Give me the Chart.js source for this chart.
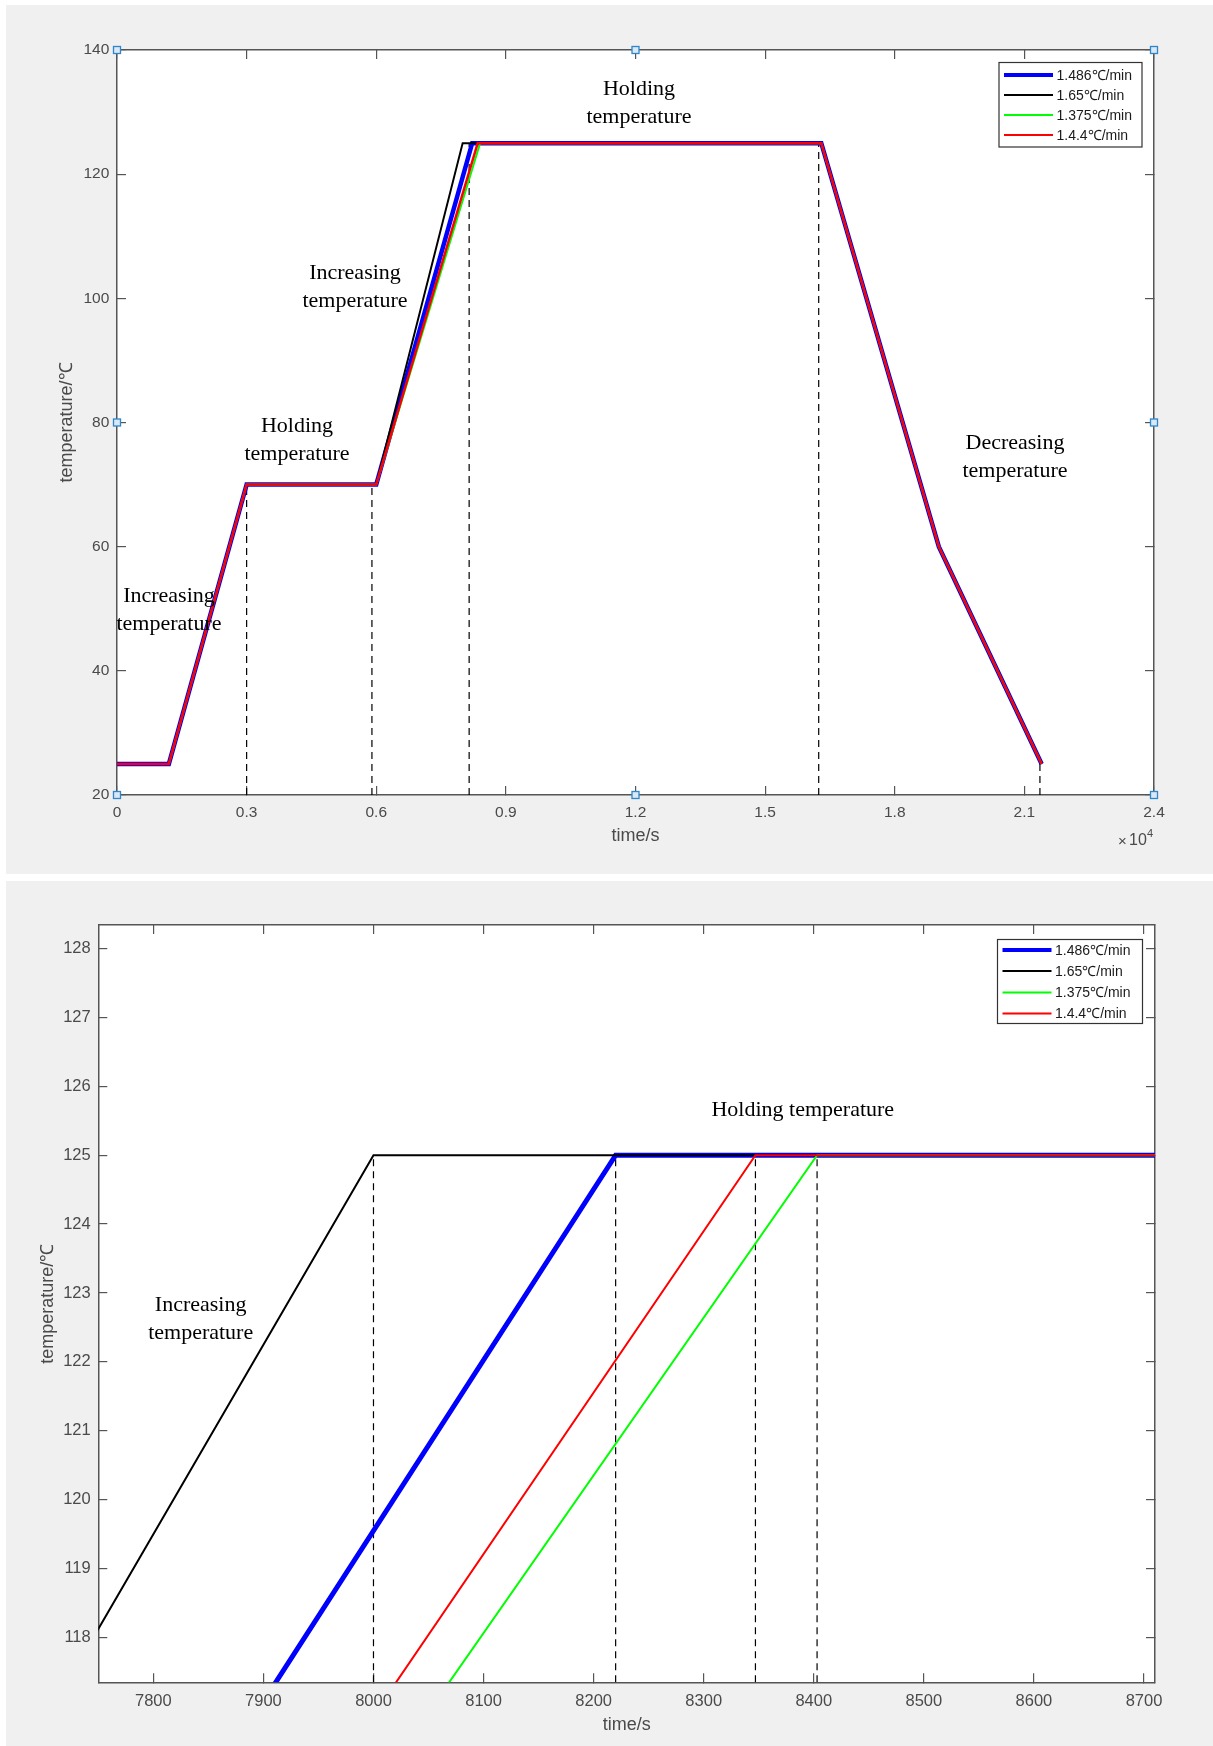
<!DOCTYPE html>
<html>
<head>
<meta charset="utf-8">
<title>Temperature profile</title>
<script src="https://cdn.jsdelivr.net/npm/chart.js@4.4.0/dist/chart.umd.min.js"></script>
<style>
  body { margin: 0; background: #fff; width: 1213px; height: 1746px; position: relative; overflow: hidden; }
  .panel { position: absolute; left: 6px; width: 1207px; background: #f0f0f0; }
  #p1 { top: 5px; height: 869px; }
  #p2 { top: 881px; height: 865px; }
  canvas { display: block; }
</style>
</head>
<body>
<div class="panel" id="p1"><canvas id="full" width="1207" height="869"></canvas></div>
<div class="panel" id="p2"><canvas id="zoom" width="1207" height="865"></canvas></div>
<script>
// heating rates shown in the legend
const seriesLabels = ['1.486℃/min', '1.65℃/min', '1.375℃/min', '1.4.4℃/min'];

// corner points of the temperature profile (same temperatures for every rate)
const profileTemp = [25, 25, 70, 70, 125, 125, 60, 25];
const time1486 = [0, 1200, 3000, 6000, 8220, 16300, 19020, 21400];
const time165  = [0, 1200, 3000, 6000, 8000, 16300, 19020, 21400];
const time1375 = [0, 1200, 3000, 6000, 8403, 16300, 19020, 21400];
const time144  = [0, 1200, 3000, 6000, 8347, 16300, 19020, 21400];

// vertical dashed guide lines
const guideTimeFull = [3000, 5900, 8150, 16240, 21360];
const guideTempFull = [70, 70, 125, 125, 25.5];
const guideTimeZoom = [8000, 8220, 8347, 8403];
const guideTempZoom = [125, 125, 125, 125];

// ticks
const xTicksFull = [0, 3000, 6000, 9000, 12000, 15000, 18000, 21000, 24000];
const xTickLabelsFull = ['0', '0.3', '0.6', '0.9', '1.2', '1.5', '1.8', '2.1', '2.4'];
const yTicksFull = [20, 40, 60, 80, 100, 120, 140];
const xTicksZoom = [7800, 7900, 8000, 8100, 8200, 8300, 8400, 8500, 8600, 8700];
const yTicksZoom = [118, 119, 120, 121, 122, 123, 124, 125, 126, 127, 128];

// text notes, placed in data coordinates
const notesFull = [
  { lines: ['Holding', 'temperature'], x: 12080, y: 131.5 },
  { lines: ['Increasing', 'temperature'], x: 5508, y: 101.8 },
  { lines: ['Holding', 'temperature'], x: 4166, y: 77.1 },
  { lines: ['Increasing', 'temperature'], x: 1203, y: 49.7 },
  { lines: ['Decreasing', 'temperature'], x: 20783, y: 74.4 }
];
const notesZoom = [
  { lines: ['Holding temperature'], x: 8390, y: 125.65 },
  { lines: ['Increasing', 'temperature'], x: 7843, y: 122.62 }
];

const seriesTimes = [time1486, time165, time1375, time144];
const seriesColors = ['#0000ff', '#000000', '#00ff00', '#ff0000'];
const seriesOrder = [4, 3, 2, 1]; // red ends up on top, blue at the bottom
const legendWidths = [4, 2, 2, 2];

const sans = '"Liberation Sans", Arial, Helvetica, sans-serif';
const serif = '"Liberation Serif", "Times New Roman", serif';
const axisColor = '#555555';
const tickColor = '#4a4a4a';

const extras = {
  id: 'extras',
  beforeDraw(chart) {
    const { ctx, chartArea: a } = chart;
    ctx.save();
    ctx.fillStyle = '#ffffff';
    ctx.fillRect(a.left, a.top, a.right - a.left, a.bottom - a.top);
    ctx.restore();
  },
  afterDraw(chart, args, o) {
    const { ctx, chartArea: a, scales } = chart;
    ctx.save();

    // text notes
    ctx.fillStyle = '#000';
    ctx.font = '22px ' + serif;
    ctx.textAlign = 'center';
    ctx.textBaseline = 'middle';
    o.notes.forEach(n => {
      const px = scales.x.getPixelForValue(n.x);
      const py = scales.y.getPixelForValue(n.y);
      const y0 = py - (n.lines.length - 1) * 14;
      n.lines.forEach((t, i) => ctx.fillText(t, px, y0 + i * 28));
    });

    // legend box
    const lg = o.legend;
    const bx = a.right - lg.right, by = a.top + lg.top;
    ctx.fillStyle = '#fff';
    ctx.fillRect(bx, by, lg.w, lg.h);
    ctx.strokeStyle = '#333';
    ctx.lineWidth = 1.2;
    ctx.strokeRect(bx + 0.5, by + 0.5, lg.w, lg.h);
    ctx.font = '14px ' + sans;
    ctx.textAlign = 'left';
    seriesLabels.forEach((lab, i) => {
      const ry = by + lg.rows[i];
      ctx.strokeStyle = seriesColors[i];
      ctx.lineWidth = legendWidths[i];
      ctx.beginPath();
      ctx.moveTo(bx + 5.5, ry);
      ctx.lineTo(bx + 54.5, ry);
      ctx.stroke();
      ctx.fillStyle = '#1a1a1a';
      ctx.fillText(lab, bx + 58, ry + 1);
    });

    // x10^4 exponent label
    if (o.exponent) {
      ctx.fillStyle = tickColor;
      ctx.font = '15px ' + sans;
      ctx.textAlign = 'left';
      ctx.fillText('×', a.right - 36, a.bottom + 47);
      ctx.font = '16px ' + sans;
      ctx.fillText('10', a.right - 25, a.bottom + 46);
      ctx.font = '11px ' + sans;
      ctx.fillText('4', a.right - 7, a.bottom + 39);
    }

    // selection handles of the MATLAB axes
    if (o.handles) {
      const xs = [a.left, (a.left + a.right) / 2, a.right];
      const ys = [a.top, (a.top + a.bottom) / 2, a.bottom];
      ctx.fillStyle = '#d8e8f6';
      ctx.strokeStyle = '#2f86c8';
      ctx.lineWidth = 1.3;
      xs.forEach((hx, i) => ys.forEach((hy, j) => {
        if (i === 1 && j === 1) return;
        ctx.fillRect(hx - 3.5, hy - 3.5, 7, 7);
        ctx.strokeRect(hx - 3.5, hy - 3.5, 7, 7);
      }));
    }
    ctx.restore();
  }
};

function makeChart(id, o) {
  const datasets = seriesTimes.map((times, i) => ({
    label: seriesLabels[i],
    data: times.map((t, j) => ({ x: t, y: profileTemp[j] })),
    borderColor: seriesColors[i],
    borderWidth: o.widths[i],
    pointRadius: 0,
    tension: 0,
    fill: false,
    clip: 0,
    order: seriesOrder[i]
  }));
  o.guideTime.forEach((t, i) => datasets.push({
    label: 'guide',
    data: [{ x: t, y: o.yMin }, { x: t, y: o.guideTemp[i] }],
    borderColor: '#000',
    borderWidth: 1.2,
    borderDash: [7, 5],
    pointRadius: 0,
    clip: 0,
    order: 10
  }));

  const grid = { drawOnChartArea: false, tickLength: -9, color: axisColor, lineWidth: 1.2 };
  const border = { color: axisColor, width: 1.5 };
  const tickFont = { family: sans, size: o.tickSize };
  const titleFont = { family: sans, size: 18 };

  return new Chart(document.getElementById(id), {
    type: 'line',
    data: { datasets },
    options: {
      responsive: false,
      animation: false,
      events: [],
      layout: { padding: o.padding },
      plugins: {
        legend: { display: false },
        tooltip: { enabled: false },
        extras: { notes: o.notes, legend: o.legend, exponent: o.exponent, handles: o.handles }
      },
      scales: {
        x: {
          type: 'linear', position: 'bottom', min: o.xMin, max: o.xMax,
          afterBuildTicks: s => { s.ticks = o.xTicks.map(v => ({ value: v })); },
          afterFit: s => { s.height = o.xH; },
          grid, border,
          ticks: {
            padding: o.xPad, color: tickColor, font: tickFont, maxRotation: 0, autoSkip: false,
            callback: (v, i) => o.xLabels ? o.xLabels[i] : String(v)
          },
          title: { display: true, text: 'time/s', color: tickColor, font: titleFont, padding: 0 }
        },
        x2: {
          type: 'linear', position: 'top', min: o.xMin, max: o.xMax,
          afterBuildTicks: s => { s.ticks = o.xTicks.map(v => ({ value: v })); },
          afterFit: s => { s.height = 0; },
          grid, border,
          ticks: { display: false }
        },
        y: {
          type: 'linear', position: 'left', min: o.yMin, max: o.yMax,
          afterBuildTicks: s => { s.ticks = o.yTicks.map(v => ({ value: v })); },
          afterFit: s => { s.width = o.yW; },
          grid, border,
          ticks: { padding: o.yPad, color: tickColor, font: tickFont, callback: v => String(v) },
          title: { display: true, text: 'temperature/℃', color: tickColor, font: titleFont, padding: { top: o.yTitlePad, bottom: 0 } }
        },
        y2: {
          type: 'linear', position: 'right', min: o.yMin, max: o.yMax,
          afterBuildTicks: s => { s.ticks = o.yTicks.map(v => ({ value: v })); },
          afterFit: s => { s.width = 0; },
          grid, border,
          ticks: { display: false }
        }
      }
    },
    plugins: [extras]
  });
}

makeChart('full', {
  xMin: 0, xMax: 24000, yMin: 20, yMax: 140,
  xTicks: xTicksFull, xLabels: xTickLabelsFull, yTicks: yTicksFull,
  guideTime: guideTimeFull, guideTemp: guideTempFull,
  widths: [4.5, 2, 2, 2.5],
  padding: { top: 45, right: 59, left: 0, bottom: 26.7 },
  xH: 52.3, yW: 111, xPad: 17.7, yPad: 16.7, yTitlePad: 50.2, tickSize: 15.5,
  notes: notesFull,
  legend: { right: 155.5, top: 12, w: 143, h: 84.5, rows: [13, 33, 53, 73] },
  exponent: true, handles: true
});

makeChart('zoom', {
  xMin: 7750, xMax: 8710, yMin: 117.35, yMax: 128.34,
  xTicks: xTicksZoom, xLabels: null, yTicks: yTicksZoom,
  guideTime: guideTimeZoom, guideTemp: guideTempZoom,
  widths: [5, 2, 2, 2],
  padding: { top: 44, right: 58, left: 0, bottom: 9.8 },
  xH: 53.9, yW: 92.3, xPad: 17.8, yPad: 16.6, yTitlePad: 31.2, tickSize: 16.5,
  notes: notesZoom,
  legend: { right: 158, top: 14, w: 145, h: 84, rows: [11, 32, 53.5, 74.6] },
  exponent: false, handles: false
});
</script>
</body>
</html>
